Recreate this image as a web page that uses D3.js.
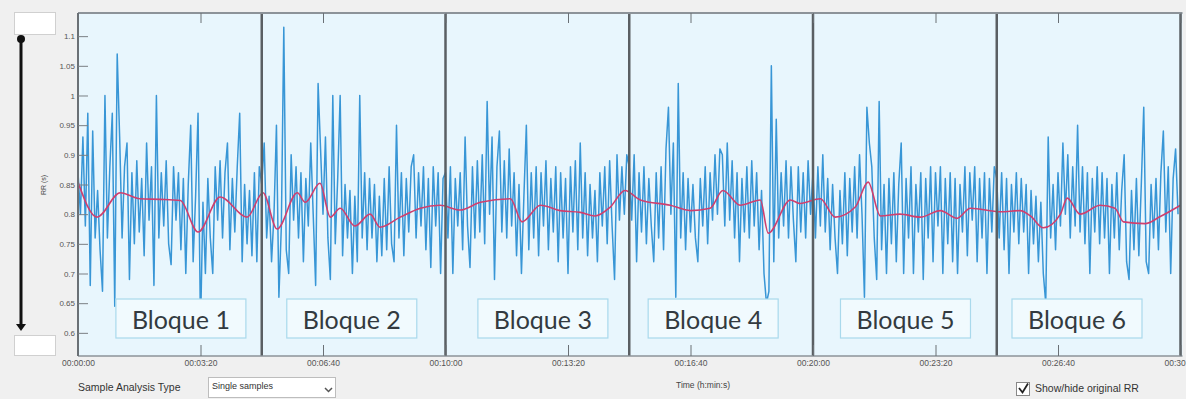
<!DOCTYPE html>
<html>
<head>
<meta charset="utf-8">
<script src="https://cdn.jsdelivr.net/npm/d3@7"></script>
<style>
  html, body { margin: 0; padding: 0; background: #f0f0f0; }
  svg { display: block; }
</style>
</head>
<body>
<svg id="chart" width="1186" height="399"></svg>
<script>
// RR series (ms), one value every 4 s, 75 values per 5-min block
const rrStep = 4;
const block1 = [870,800,930,780,970,680,940,760,840,740,670,1000,760,880,970,645,1070,930,760,880,920,690,870,750,890,770,860,730,920,790,880,680,1000,760,870,780,890,750,715,880,790,870,740,860,700,850,950,720,830,970,605,820,700,860,760,700,880,790,890,760,870,920,740,860,770,880,970,720,850,750,840,730,870,720,880];
const block2 = [850,920,760,830,720,800,950,660,780,1115,740,700,900,790,880,760,870,720,860,780,920,800,680,1020,910,800,930,760,690,1000,750,860,1000,730,850,760,840,700,830,720,1000,760,870,740,860,760,850,720,830,730,860,740,880,750,720,950,760,870,730,860,770,880,900,760,870,780,880,740,860,710,880,780,870,700,860];
const block3 = [870,760,880,700,860,780,870,740,930,780,710,880,760,890,770,900,750,990,800,930,690,880,940,770,890,760,910,780,870,730,850,700,830,950,740,870,760,880,730,870,780,890,740,860,770,880,720,870,760,860,700,880,770,890,740,920,760,870,730,850,760,840,720,870,780,880,750,890,780,690,900,790,880,800,900];
const block4 = [880,790,900,720,870,770,880,750,860,780,720,870,760,880,740,910,980,800,920,660,1020,760,870,740,860,770,850,760,720,860,780,880,750,870,790,900,800,910,900,780,920,790,890,760,870,720,860,770,880,760,890,780,870,740,840,700,650,670,1050,720,960,760,870,780,890,760,880,790,720,880,770,870,760,890,800];
const block5 = [870,760,880,780,900,770,860,740,850,760,700,840,750,870,730,860,770,880,760,900,800,660,980,920,880,760,690,990,740,850,700,860,750,870,720,850,920,700,860,760,880,700,850,770,870,690,860,760,880,720,870,780,880,700,860,750,870,720,860,700,850,770,880,730,870,790,880,720,860,760,870,700,860,770,880];
const block6 = [860,760,870,740,860,700,850,770,870,750,860,770,850,700,840,750,830,720,820,700,650,930,760,850,740,870,780,920,800,900,760,880,780,950,770,880,750,870,700,860,770,880,750,870,760,860,700,850,760,870,740,840,900,720,690,840,740,860,730,850,980,720,700,850,760,860,740,870,940,770,880,700,860,910,800];
const rrMs = [...block1, ...block2, ...block3, ...block4, ...block5, ...block6];

// smoothed trend (red), time in s and RR in s
const trendTime = [0,31,69,101,134,167,196,232,276,302,325,358,371,395,412,428,452,477,493,526,559,591,624,657,706,725,755,787,820,844,869,893,918,967,1000,1032,1053,1081,1114,1127,1163,1179,1212,1236,1269,1290,1310,1342,1375,1408,1435,1457,1506,1538,1555,1576,1604,1615,1636,1669,1693,1707,1742,1767,1800];
const trendValue = [0.854,0.795,0.836,0.826,0.825,0.823,0.770,0.829,0.795,0.836,0.775,0.836,0.820,0.852,0.795,0.810,0.780,0.800,0.778,0.795,0.810,0.815,0.807,0.820,0.826,0.787,0.815,0.806,0.803,0.797,0.812,0.840,0.824,0.815,0.806,0.810,0.840,0.815,0.824,0.768,0.824,0.818,0.826,0.795,0.812,0.854,0.797,0.800,0.795,0.806,0.793,0.810,0.804,0.806,0.797,0.777,0.800,0.827,0.800,0.815,0.810,0.787,0.784,0.796,0.815];

const blockEdges = [300, 600, 900, 1200, 1500, 1800];
const blockLabels = ["Bloque 1", "Bloque 2", "Bloque 3", "Bloque 4", "Bloque 5", "Bloque 6"];
const blockLabelTime = [168, 447, 759, 1037, 1351, 1631];

const xTicks = [0, 200, 400, 600, 800, 1000, 1200, 1400, 1600, 1800];
const yTicks = [0.6, 0.65, 0.7, 0.75, 0.8, 0.85, 0.9, 0.95, 1, 1.05, 1.1];

const svg = d3.select("#chart");
const plot = { left: 78, right: 1180.5, top: 13, bottom: 356 };

const x = d3.scaleLinear().domain([0, 1800]).range([plot.left, plot.right]);
const y = d3.scaleLinear().domain([0.561, 1.139]).range([plot.bottom, plot.top]);

function hms(s) {
  const h = Math.floor(s / 3600), m = Math.floor((s % 3600) / 60), sec = Math.round(s % 60);
  return [h, m, sec].map(v => String(v).padStart(2, "0")).join(":");
}

// plot background
svg.append("rect")
  .attr("x", plot.left).attr("y", plot.top)
  .attr("width", plot.right - plot.left + 2).attr("height", plot.bottom - plot.top)
  .attr("fill", "#e8f6fd");

// RR series
const clip = svg.append("defs").append("clipPath").attr("id", "plot-clip");
clip.append("rect").attr("x", plot.left).attr("y", plot.top)
  .attr("width", plot.right - plot.left).attr("height", plot.bottom - plot.top);

const rrLine = d3.line()
  .x((d, i) => x(i * rrStep))
  .y(d => y(d / 1000));

svg.append("path")
  .datum(rrMs)
  .attr("clip-path", "url(#plot-clip)")
  .attr("d", rrLine)
  .attr("fill", "none")
  .attr("stroke", "#3896d6")
  .attr("stroke-width", 1.5)
  .attr("stroke-linejoin", "round");

// trend
const trendLine = d3.line()
  .x((d, i) => x(trendTime[i]))
  .y(d => y(d))
  .curve(d3.curveMonotoneX);

svg.append("path")
  .datum(trendValue)
  .attr("d", trendLine)
  .attr("fill", "none")
  .attr("stroke", "#cf3f6e")
  .attr("stroke-width", 1.6);

// block separators
svg.selectAll("line.block")
  .data(blockEdges)
  .join("line")
  .attr("class", "block")
  .attr("x1", d => x(d)).attr("x2", d => x(d))
  .attr("y1", plot.top).attr("y2", plot.bottom)
  .attr("stroke", "#5a5f63")
  .attr("stroke-width", 2.5);

// frame
svg.append("line").attr("x1", plot.left).attr("x2", plot.right + 2).attr("y1", plot.top).attr("y2", plot.top)
  .attr("stroke", "#8c9399").attr("stroke-width", 2);
svg.append("line").attr("x1", plot.left).attr("x2", plot.left).attr("y1", plot.top).attr("y2", plot.bottom)
  .attr("stroke", "#6a7075").attr("stroke-width", 2);
svg.append("line").attr("x1", plot.left).attr("x2", plot.right + 2).attr("y1", plot.bottom).attr("y2", plot.bottom)
  .attr("stroke", "#8c9399").attr("stroke-width", 1.5);

// axes
const axisFont = "'Liberation Sans', Arial, sans-serif";

const yAxis = svg.append("g")
  .attr("transform", `translate(${plot.left},0)`)
  .call(d3.axisLeft(y).tickValues(yTicks).tickSizeInner(-10).tickSizeOuter(0).tickPadding(3)
    .tickFormat(d => String(+d.toFixed(2))));
yAxis.select(".domain").remove();
yAxis.selectAll("line").attr("stroke", "#7a7f84");
yAxis.selectAll("text").attr("fill", "#555").attr("font-size", "8px").attr("font-family", axisFont);

const xAxis = svg.append("g")
  .attr("transform", `translate(0,${plot.bottom})`)
  .call(d3.axisBottom(x).tickValues(xTicks).tickSizeInner(-11).tickSizeOuter(0).tickPadding(4)
    .tickFormat(hms));
xAxis.select(".domain").remove();
xAxis.selectAll("line").attr("stroke", "#6a7075");
xAxis.selectAll("text").attr("fill", "#555").attr("font-size", "8.5px").attr("font-family", axisFont);

const xTop = svg.append("g")
  .attr("transform", `translate(0,${plot.top})`)
  .call(d3.axisTop(x).tickValues(xTicks).tickSizeInner(-10).tickSizeOuter(0).tickFormat(""));
xTop.select(".domain").remove();
xTop.selectAll("line").attr("stroke", "#6a7075");

// y label
svg.append("text")
  .attr("transform", "translate(46,185) rotate(-90)")
  .attr("text-anchor", "middle")
  .attr("font-size", "7px")
  .attr("font-family", axisFont)
  .attr("fill", "#444")
  .text("RR (s)");

// block labels
const lab = svg.selectAll("g.blab")
  .data(blockLabels)
  .join("g")
  .attr("class", "blab")
  .attr("transform", (d, i) => `translate(${x(blockLabelTime[i])},319)`);
lab.append("rect")
  .attr("x", -65).attr("y", -20).attr("width", 130).attr("height", 39)
  .attr("fill", "#f1fafe").attr("stroke", "#a9d9ec").attr("stroke-width", 1.2);
lab.append("text")
  .attr("text-anchor", "middle")
  .attr("y", 10)
  .attr("font-size", "25px")
  .attr("font-family", "Lato, 'Open Sans', sans-serif")
  .attr("fill", "#333a40")
  .text(d => d);

// left slider
svg.append("rect").attr("x", 14.5).attr("y", 12.5).attr("width", 41).attr("height", 22)
  .attr("fill", "#fff").attr("stroke", "#d0d0d0");
svg.append("rect").attr("x", 14.5).attr("y", 335.5).attr("width", 41).attr("height", 20)
  .attr("fill", "#fff").attr("stroke", "#d0d0d0");
svg.append("line").attr("x1", 21).attr("x2", 21).attr("y1", 39).attr("y2", 328)
  .attr("stroke", "#111").attr("stroke-width", 3);
svg.append("circle").attr("cx", 21).attr("cy", 39).attr("r", 4).attr("fill", "#111");
svg.append("path").attr("d", "M16,324 L26,324 L21,331 Z").attr("fill", "#111");

// bottom controls
const uiFont = "'Liberation Sans', Arial, sans-serif";
svg.append("text").attr("x", 78).attr("y", 391).attr("font-size", "10.5px")
  .attr("font-family", uiFont).attr("fill", "#333").text("Sample Analysis Type");
svg.append("rect").attr("x", 208.5).attr("y", 377.5).attr("width", 127).attr("height", 20)
  .attr("fill", "#fff").attr("stroke", "#bdbdbd");
svg.append("text").attr("x", 212).attr("y", 389).attr("font-size", "9px")
  .attr("font-family", uiFont).attr("fill", "#333").text("Single samples");
svg.append("path").attr("d", "M325,388 L328.5,391.5 L332,388")
  .attr("fill", "none").attr("stroke", "#555").attr("stroke-width", 1.5);
svg.append("text").attr("x", 703).attr("y", 388).attr("text-anchor", "middle").attr("font-size", "8.5px")
  .attr("font-family", uiFont).attr("fill", "#444").text("Time (h:min:s)");
svg.append("rect").attr("x", 1016.5).attr("y", 382.5).attr("width", 13).attr("height", 13)
  .attr("fill", "#fff").attr("stroke", "#888");
svg.append("path").attr("d", "M1019,388 L1022.5,392.5 L1028,383.5")
  .attr("fill", "none").attr("stroke", "#222").attr("stroke-width", 1.8);
svg.append("text").attr("x", 1035).attr("y", 392).attr("font-size", "10.5px")
  .attr("font-family", uiFont).attr("fill", "#333").text("Show/hide original RR");
</script>
</body>
</html>
